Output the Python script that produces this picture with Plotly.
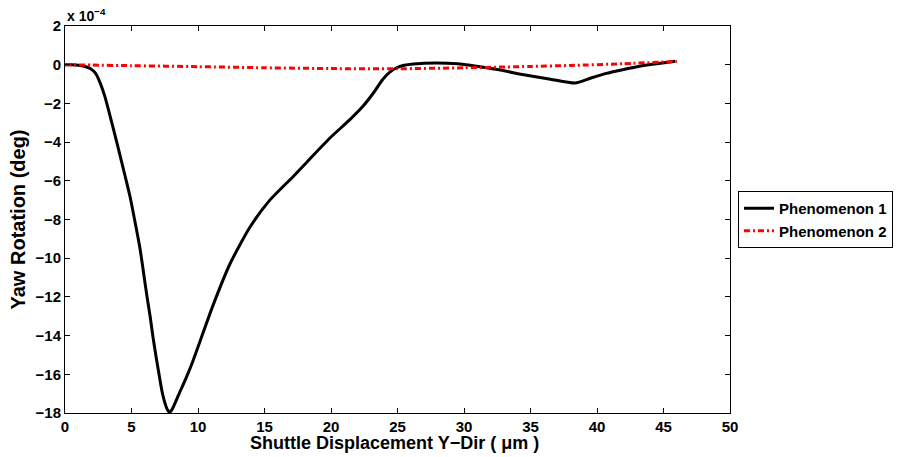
import plotly.graph_objects as go

# Shuttle displacement (um) and yaw rotation (units of 1e-4 deg)
disp_p1 = [0, 0.5, 1.0, 1.5, 1.9, 2.3, 2.65, 3.0, 3.4, 3.8, 4.15, 4.5, 4.9, 5.3,
           5.65, 6.0, 6.17, 6.4, 6.6, 6.85, 7.07, 7.3, 7.5, 7.68, 7.85, 8.02,
           8.2, 8.55, 9.1, 9.6, 10.15, 11.15, 12.4, 13.9, 15.4, 17.2, 18.3,
           19.9, 21.4, 22.4, 23.2, 23.9, 24.4, 24.9, 25.5, 26.2, 27.9, 29.5,
           30.7, 32.5, 34.5, 36.5, 38.35, 39.5, 40.7, 42.0, 43.2, 44.5, 45.9]
yaw_p1 = [0, -0.005, -0.03, -0.09, -0.2, -0.45, -0.95, -1.65, -2.68, -3.75, -4.72,
          -5.7, -6.85, -8.25, -9.55, -11.2, -12.0, -13.0, -14.0, -15.1, -16.0,
          -16.9, -17.45, -17.8, -17.96, -17.85, -17.6, -17.05, -16.2, -15.35,
          -14.3, -12.4, -10.3, -8.4, -7.0, -5.75, -4.95, -3.8, -2.85, -2.15,
          -1.45, -0.75, -0.4, -0.17, -0.03, 0.04, 0.09, 0.05, -0.05, -0.25,
          -0.52, -0.75, -0.95, -0.7, -0.45, -0.25, -0.08, 0.05, 0.18]

disp_p2 = [0, 2, 5, 10, 15, 20, 25, 30, 35, 38, 42, 46]
yaw_p2 = [0, -0.02, -0.05, -0.1, -0.16, -0.2, -0.21, -0.16, -0.09, -0.04, 0.05, 0.17]

x_ticks = [0, 5, 10, 15, 20, 25, 30, 35, 40, 45, 50]
y_ticks = [-18, -16, -14, -12, -10, -8, -6, -4, -2, 0, 2]

FONT = "Liberation Sans"

fig = go.Figure()
fig.add_trace(go.Scatter(x=disp_p1, y=yaw_p1, mode="lines", name="Phenomenon 1",
                         line=dict(color="black", width=3, shape="spline", smoothing=0.6)))
fig.add_trace(go.Scatter(x=disp_p2, y=yaw_p2, mode="lines", name="Phenomenon 2",
                         line=dict(color="#ff0000", width=3, dash="6px,3px,2px,3px",
                                   shape="spline", smoothing=0.6)))

axis_common = dict(
    showline=True, linecolor="black", linewidth=1, mirror="ticks",
    ticks="inside", ticklen=5, tickwidth=1, tickcolor="black",
    showgrid=False, zeroline=False,
    tickfont=dict(family=FONT, size=15, color="black", weight="bold"),
)

fig.update_xaxes(range=[0, 50], tickvals=x_ticks, **axis_common)
fig.update_yaxes(range=[-18, 2], tickvals=y_ticks, **axis_common)

fig.update_layout(
    width=898, height=457,
    margin=dict(l=65, r=168, t=26, b=44, autoexpand=False),
    plot_bgcolor="white", paper_bgcolor="white",
    legend=dict(x=1.012, y=0.5, xanchor="left", yanchor="middle",
                bordercolor="black", borderwidth=1, bgcolor="white",
                font=dict(family=FONT, size=15, color="black", weight="bold"),
                tracegroupgap=0),
    annotations=[
        dict(text="Shuttle Displacement Y\u2212Dir ( \u03bcm )", x=0.496, y=-0.078,
             xref="paper", yref="paper", xanchor="center", yanchor="middle",
             showarrow=False,
             font=dict(family=FONT, size=18, color="black", weight="bold")),
        dict(text="Yaw Rotation (deg)", x=-0.0707, y=0.5, xref="paper", yref="paper",
             xanchor="center", yanchor="middle", textangle=-90, showarrow=False,
             font=dict(family=FONT, size=20, color="black", weight="bold")),
        dict(text="x 10<sup>\u22124</sup>", x=0, y=1.0, xref="paper", yref="paper",
             xanchor="left", yanchor="bottom", showarrow=False,
             font=dict(family=FONT, size=14, color="black", weight="bold")),
    ],
)

fig.write_html("out.html")
